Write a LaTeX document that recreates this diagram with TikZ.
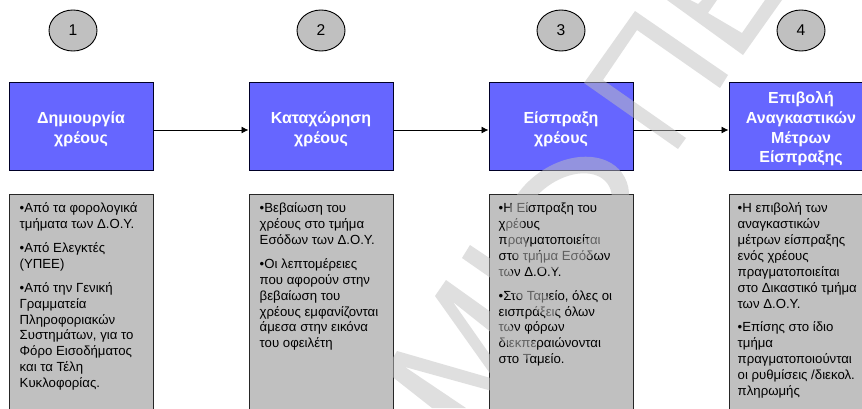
\documentclass[tikz,border=0pt]{standalone}
\usepackage{fontspec}
\setmainfont{Liberation Sans}
\usetikzlibrary{arrows.meta,shapes.geometric}
\definecolor{stepblue}{HTML}{6666FF}
\definecolor{boxgray}{HTML}{C0C0C0}
\tikzset{
  numcircle/.style={draw=black,line width=0.9pt,fill=boxgray,ellipse,minimum width=48pt,minimum height=41pt,inner sep=0pt,font=\fontsize{15.6}{18}\selectfont},
  stepbox/.style={draw=black!85!blue,line width=1pt,fill=stepblue,minimum width=144pt,minimum height=88pt,inner sep=0pt},
  steptext/.style={inner sep=0pt,text=white,align=center,font=\fontsize{16}{19.7}\selectfont\bfseries},
  infobox/.style={draw=black!85,line width=1pt,fill=boxgray,minimum width=144pt,minimum height=230pt,inner sep=0pt},
  bodytext/.style={anchor=north west,inner sep=0pt,align=left,text=black,font=\fontsize{13.2}{15.9}\selectfont},
  flow/.style={line width=0.9pt,-{Latex[length=7pt,width=7pt]},shorten >=0pt},
  wmark/.style={fill=boxgray,fill opacity=0.5,draw=none,even odd rule}
}
\newcommand{\pgap}{\\[8pt]}
\begin{document}
\begin{tikzpicture}[x=1pt,y=-1pt]
\path[use as bounding box,clip] (0,0) rectangle (862,408);
\fill[white] (0,0) rectangle (862,408);
% number circles
\node[numcircle] (n1) at (73,30.5) {1};
\node[numcircle] (n2) at (321,30.5) {2};
\node[numcircle] (n3) at (561,30.5) {3};
\node[numcircle] (n4) at (801,30.5) {4};
% step boxes
\node[stepbox] (s1) at (81,126) {};
\node[stepbox] (s2) at (321,126) {};
\node[stepbox] (s3) at (561,126) {};
\node[stepbox] (s4) at (801,126) {};
\node[steptext] (l1) at ([yshift=-3.5pt]s1.center) {\strut Δημιουργία\\\strut χρέους};
\node[steptext] (l2) at ([yshift=-3.5pt]s2.center) {\strut Καταχώρηση\\\strut χρέους};
\node[steptext] (l3) at ([yshift=-3.5pt]s3.center) {\strut Είσπραξη\\\strut χρέους};
\node[steptext] (l4) at ([yshift=-3.5pt]s4.center) {\strut Επιβολή\\\strut Αναγκαστικών\\\strut Μέτρων\\\strut Είσπραξης};
% connectors
\draw[flow] ([yshift=-4pt]s1.east) -- ([yshift=-4pt]s2.west);
\draw[flow] ([yshift=-4pt]s2.east) -- ([yshift=-4pt]s3.west);
\draw[flow] ([yshift=-4pt]s3.east) -- ([yshift=-4pt]s4.west);
% info boxes
\node[infobox,anchor=north] (g1) at (81,194) {};
\node[infobox,anchor=north] (g2) at (321,194) {};
\node[infobox,anchor=north] (g3) at (561,194) {};
\node[infobox,anchor=north] (g4) at (801,194) {};
\node[bodytext] (t1) at ([xshift=11pt,yshift=-8.5pt]g1.north west) {•Από τα φορολογικά\\τμήματα των Δ.Ο.Υ.\pgap •Από Ελεγκτές\\(ΥΠΕΕ)\pgap •Από την Γενική\\Γραμματεία\\Πληροφοριακών\\Συστημάτων, για το\\Φόρο Εισοδήματος\\και τα Τέλη\\Κυκλοφορίας.};
\node[bodytext] (t2) at ([xshift=11pt,yshift=-8.5pt]g2.north west) {•Βεβαίωση του\\χρέους στο τμήμα\\Εσόδων των Δ.Ο.Υ.\pgap •Οι λεπτομέρειες\\που αφορούν στην\\βεβαίωση του\\χρέους εμφανίζονται\\άμεσα στην εικόνα\\του οφειλέτη};
\node[bodytext] (t3) at ([xshift=10pt,yshift=-8.5pt]g3.north west) {•Η Είσπραξη του\\χρέους\\πραγματοποιείται\\στο τμήμα Εσόδων\\των Δ.Ο.Υ.\pgap •Στο Ταμείο, όλες οι\\εισπράξεις όλων\\των φόρων\\διεκπεραιώνονται\\στο Ταμείο.};
\node[bodytext] (t4) at ([xshift=9pt,yshift=-8.5pt]g4.north west) {•Η επιβολή των\\αναγκαστικών\\μέτρων είσπραξης\\ενός χρέους\\πραγματοποιείται\\στο Δικαστικό τμήμα\\των Δ.Ο.Υ.\pgap •Επίσης στο ίδιο\\τμήμα\\πραγματοποιούνται\\οι ρυθμίσεις /διεκολ.\\πληρωμής};
% watermark
\path[wmark] (432,408) -- (385,371) -- (397,351) -- (494,379) -- (435,296) -- (446,280) -- (537,345) -- (526,360) -- (453,302) -- (521,399) -- (405,367) -- (466,408) -- cycle;
\path[wmark] (470,245) -- (561,306) -- (551,320) -- (462,258) -- cycle;
\path[wmark] (567,213) ellipse[x radius=68,y radius=49,rotate=36] (567,213) ellipse[x radius=50,y radius=33,rotate=36];
\path[wmark] (635,11) -- (728,75) -- (720,88) -- (637,30) -- (603,80) -- (686,138) -- (678,149) -- (584,83) -- cycle;
\path[wmark] (667,0) -- (743,55) -- (782,0) -- (765,0) -- (742,33) -- (708,13) -- (717,0) -- (702,0) -- (698,4) -- (690,0) -- cycle;
\end{tikzpicture}
\end{document}
